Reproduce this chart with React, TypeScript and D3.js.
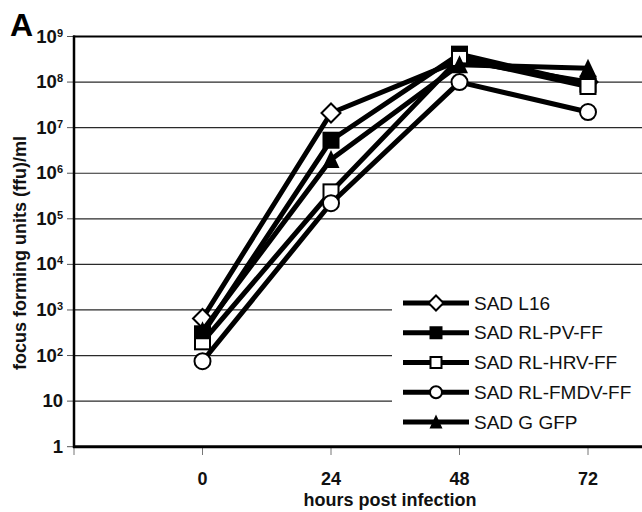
import React, { useEffect, useRef } from "react";
import * as d3 from "d3";

// hours post infection
const hours = [0, 24, 48, 72];
const xTickValues = [-24, 0, 24, 48, 72];
const yTickExponents = [0, 1, 2, 3, 4, 5, 6, 7, 8, 9];

const seriesNames = ["SAD L16", "SAD RL-PV-FF", "SAD RL-HRV-FF", "SAD RL-FMDV-FF", "SAD G GFP"];
const seriesMarkers = ["diamond", "filledSquare", "openSquare", "openCircle", "filledTriangle"];

const sadL16 = [650, 2.1e7, 3e8, 1e8];
const sadPV = [300, 5.3e6, 4.1e8, 9e7];
const sadHRV = [200, 3.9e5, 3.3e8, 8e7];
const sadFMDV = [75, 2.2e5, 1e8, 2.2e7];
const sadGFP = [350, 2e6, 2.4e8, 2e8];

const seriesValues = [sadL16, sadPV, sadHRV, sadFMDV, sadGFP];

const W = 642;
const H = 512;
const FONT = "'Liberation Sans', Arial, Helvetica, sans-serif";

type G = d3.Selection<SVGGElement, unknown, null, undefined>;

function drawMarker(g: G, kind: string, x: number, y: number, s: number) {
    const h = s / 2;
    if (kind === "diamond") {
        g.append("path")
            .attr("d", `M${x},${y - h - 1}L${x + h + 1},${y}L${x},${y + h + 1}L${x - h - 1},${y}Z`)
            .attr("fill", "#fff").attr("stroke", "#000").attr("stroke-width", 2);
    } else if (kind === "filledSquare") {
        g.append("rect").attr("x", x - h).attr("y", y - h).attr("width", s).attr("height", s)
            .attr("fill", "#000");
    } else if (kind === "openSquare") {
        g.append("rect").attr("x", x - h + 1).attr("y", y - h + 1).attr("width", s - 2).attr("height", s - 2)
            .attr("fill", "#fff").attr("stroke", "#000").attr("stroke-width", 2);
    } else if (kind === "openCircle") {
        g.append("circle").attr("cx", x).attr("cy", y).attr("r", h - 0.5)
            .attr("fill", "#fff").attr("stroke", "#000").attr("stroke-width", 2);
    } else {
        g.append("path")
            .attr("d", `M${x},${y - h - 1}L${x + h},${y + h}L${x - h},${y + h}Z`)
            .attr("fill", "#000");
    }
}

const App = () => {
    const ref = useRef<SVGSVGElement>(null);

    useEffect(() => {
        const svg = d3.select(ref.current);
        svg.selectAll("*").remove();

        const x = d3.scaleLinear().domain([-24, 96]).range([74, 716.5]);
        const y = d3.scaleLog().domain([1, 1e9]).range([446.7, 36.5]);

        const g = svg.append("g") as unknown as G;

        // grid lines
        yTickExponents.slice(1, 9).forEach(e => {
            g.append("line")
                .attr("x1", 74).attr("x2", W)
                .attr("y1", y(Math.pow(10, e))).attr("y2", y(Math.pow(10, e)))
                .attr("stroke", "#2a2a2a").attr("stroke-width", 1.2);
        });

        // top border
        g.append("line").attr("x1", 73).attr("x2", W).attr("y1", y(1e9)).attr("y2", y(1e9))
            .attr("stroke", "#000").attr("stroke-width", 2);

        // y ticks + labels
        yTickExponents.forEach(e => {
            const yy = y(Math.pow(10, e));
            g.append("line").attr("x1", 67).attr("x2", 74).attr("y1", yy).attr("y2", yy)
                .attr("stroke", "#555").attr("stroke-width", 1);
            const t = g.append("text")
                .attr("x", 63).attr("y", yy + 6)
                .attr("text-anchor", "end")
                .attr("font-family", FONT).attr("font-weight", "bold").attr("font-size", 18.5)
                .attr("fill", "#111");
            if (e === 0) t.text("1");
            else if (e === 1) t.text("10");
            else {
                t.append("tspan").text("10");
                t.append("tspan").attr("font-size", 11).attr("dy", -6).text(String(e));
            }
        });

        // x ticks + labels
        xTickValues.forEach(v => {
            g.append("line").attr("x1", x(v)).attr("x2", x(v)).attr("y1", 447).attr("y2", 455)
                .attr("stroke", "#777").attr("stroke-width", 1);
        });
        hours.forEach(v => {
            g.append("text")
                .attr("x", x(v)).attr("y", 485)
                .attr("text-anchor", "middle")
                .attr("font-family", FONT).attr("font-weight", "bold").attr("font-size", 18)
                .attr("fill", "#111")
                .text(String(v));
        });

        // axis titles
        g.append("text")
            .attr("x", 390).attr("y", 506)
            .attr("text-anchor", "middle")
            .attr("font-family", FONT).attr("font-weight", "bold").attr("font-size", 18)
            .attr("fill", "#111")
            .text("hours post infection");
        g.append("text")
            .attr("transform", "translate(26,253) rotate(-90)")
            .attr("text-anchor", "middle")
            .attr("font-family", FONT).attr("font-weight", "bold").attr("font-size", 18)
            .attr("fill", "#111")
            .text("focus forming units (ffu)/ml");

        // panel letter
        g.append("text")
            .attr("x", 10).attr("y", 36)
            .attr("font-family", FONT).attr("font-weight", "bold").attr("font-size", 32)
            .attr("fill", "#000")
            .text("A");

        // legend background
        g.append("rect").attr("x", 392).attr("y", 280).attr("width", W - 392).attr("height", 160)
            .attr("fill", "#fff");

        // series
        const line = d3.line<number>()
            .x((_, i) => x(hours[i]))
            .y(d => y(d));

        seriesValues.forEach((vals, si) => {
            g.append("path")
                .attr("d", line(vals) as string)
                .attr("fill", "none")
                .attr("stroke", "#000")
                .attr("stroke-width", 5)
                .attr("stroke-linejoin", "round");
            vals.forEach((v, i) => drawMarker(g, seriesMarkers[si], x(hours[i]), y(v), 17));
        });

        // axes
        g.append("line").attr("x1", 74).attr("x2", 74).attr("y1", 35.5).attr("y2", 448)
            .attr("stroke", "#000").attr("stroke-width", 2.5);
        g.append("line").attr("x1", 73).attr("x2", W).attr("y1", 446.7).attr("y2", 446.7)
            .attr("stroke", "#000").attr("stroke-width", 3);

        // legend
        const legendY = d3.scalePoint<string>().domain(seriesNames).range([303, 422]);
        seriesNames.forEach((name, i) => {
            const ly = legendY(name) as number;
            g.append("line").attr("x1", 403).attr("x2", 469).attr("y1", ly).attr("y2", ly)
                .attr("stroke", "#000").attr("stroke-width", 5);
            drawMarker(g, seriesMarkers[i], 436, ly, 13);
            g.append("text")
                .attr("x", 474).attr("y", ly + 6.5)
                .attr("font-family", FONT).attr("font-size", 19)
                .attr("fill", "#111")
                .text(name);
        });
    }, []);

    return (
        <div style={{ position: "fixed", left: 0, top: 0 }}>
            <svg ref={ref} width={W} height={H} style={{ display: "block", background: "#fff" }}></svg>
        </div>
    );
};

export default App;
